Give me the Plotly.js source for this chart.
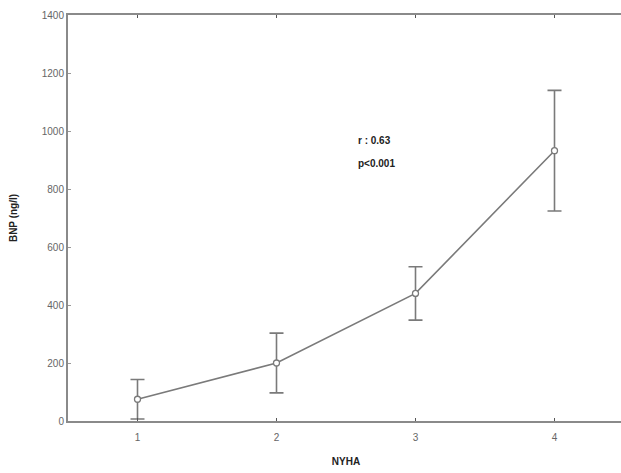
<!DOCTYPE html>
<html>
<head>
<meta charset="utf-8">
<script src="https://cdn.plot.ly/plotly-3.0.1.min.js"></script>
<style>
html,body{margin:0;padding:0;overflow:hidden;background:#fff;}
#chart{width:624px;height:473px;}
</style>
</head>
<body>
<div id="chart"></div>
<script>
const nyha = [1, 2, 3, 4];
const bnpMean = [75, 200, 440, 932];
const bnpErr = [68, 103, 92, 208];
const xTickVals = [1, 2, 3, 4];
const yTickVals = [0, 200, 400, 600, 800, 1000, 1200, 1400];

const gray = '#7a7a7a';
const trace = {
  x: nyha,
  y: bnpMean,
  type: 'scatter',
  mode: 'lines+markers',
  line: {color: gray, width: 1.6},
  marker: {symbol: 'circle', size: 6, color: '#ffffff', line: {color: gray, width: 1.3}},
  error_y: {type: 'data', array: bnpErr, visible: true, color: gray, thickness: 1.6, width: 7},
  hoverinfo: 'skip'
};

const layout = {
  width: 624,
  height: 473,
  margin: {l: 68, r: 0, t: 15, b: 52},
  paper_bgcolor: '#ffffff',
  plot_bgcolor: '#ffffff',
  showlegend: false,
  font: {family: 'Liberation Sans, Arial, sans-serif', size: 10, color: '#666'},
  xaxis: {
    range: [0.5, 4.5],
    tickvals: xTickVals,
    ticktext: xTickVals.map(String),
    showgrid: false,
    zeroline: false,
    showline: true,
    linecolor: '#8a8a8a',
    linewidth: 2,
    mirror: 'ticks',
    ticks: 'inside',
    ticklen: 3,
    tickcolor: '#555',
    ticklabelstandoff: 6,
    tickfont: {size: 10, color: '#666'},
    title: {text: '<b>NYHA</b>', font: {size: 10, color: '#222'}, standoff: 16}
  },
  yaxis: {
    range: [0, 1400],
    tickvals: yTickVals,
    showgrid: false,
    zeroline: false,
    showline: true,
    linecolor: '#8a8a8a',
    linewidth: 2,
    mirror: 'ticks',
    ticks: 'inside',
    ticklen: 3,
    tickcolor: '#999',
    tickfont: {size: 10, color: '#666'},
    title: {text: '<b>BNP (ng/l)</b>', font: {size: 10, color: '#222'}, standoff: 22}
  },
  annotations: [
    {x: 2.57, y: 968, xref: 'x', yref: 'y', text: '<b>r : 0.63</b>', showarrow: false, xanchor: 'left', font: {size: 10, color: '#222'}},
    {x: 2.57, y: 888, xref: 'x', yref: 'y', text: '<b>p<0.001</b>', showarrow: false, xanchor: 'left', font: {size: 10, color: '#222'}}
  ]
};

Plotly.newPlot('chart', [trace], layout, {staticPlot: true, displayModeBar: false});
</script>
</body>
</html>
